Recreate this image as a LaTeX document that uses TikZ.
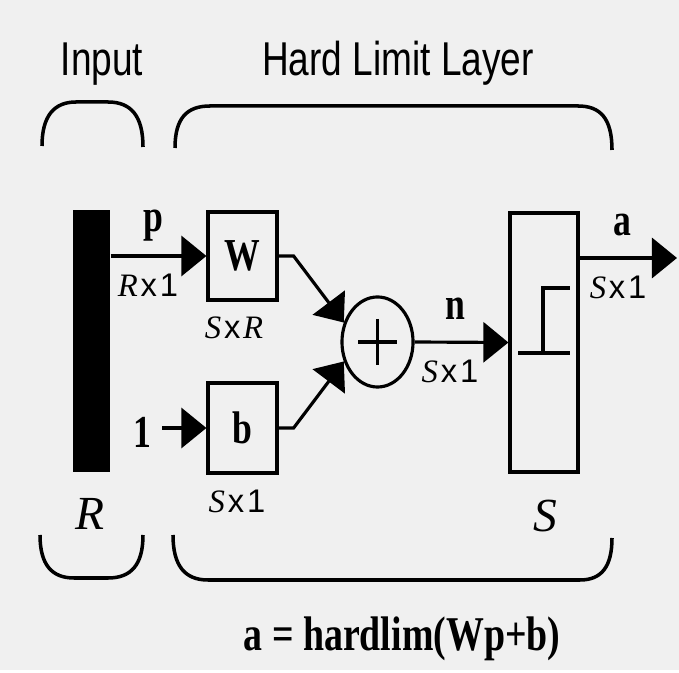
\documentclass[tikz,border=0pt]{standalone}
\usepackage{fontspec}
\setmainfont{Liberation Serif}
\setsansfont{Liberation Sans}
\newfontfamily\headfont[FakeStretch=0.78]{Liberation Sans}
\newfontfamily\boldlab[FakeStretch=0.78]{Liberation Serif}
\usetikzlibrary{arrows.meta, positioning, shapes.geometric}
\newcommand{\dimlabel}[2]{\textit{#1}\kern0.8pt\textsf{x}\kern0.8pt#2}

\begin{document}
\begin{tikzpicture}[x=0.01cm, y=-0.01cm, >={Triangle[length=0.25cm, width=0.4cm]},
  wire/.style={line width=0.9pt},
  box/.style={draw, line width=0.9pt, minimum width=0.69cm, inner sep=0pt,
    font=\boldlab\bfseries\fontsize{13}{15}\selectfont},
  sig/.style={font=\boldlab\bfseries\fontsize{13}{15}\selectfont, inner sep=1pt},
  dimtext/.style={font=\fontsize{9.3}{11}\selectfont, inner sep=1pt},
  sizetext/.style={font=\itshape\fontsize{13.5}{16}\selectfont, inner sep=1pt},
  head/.style={font=\headfont\fontsize{13.5}{16}\selectfont, anchor=base},
  brace/.style={line width=1pt}]
  \fill[black!6] (0,0) rectangle (679,670);
  % blocks
  \node[fill=black, minimum width=0.37cm, minimum height=2.62cm, inner sep=0pt] (bar) at (91.5,341) {};
  \node[box, minimum height=0.88cm] (W) at (242.5,256) {W};
  \node[box, minimum height=0.90cm] (b) at (242.5,428) {b};
  \node[draw, line width=0.9pt, ellipse, minimum width=0.71cm, minimum height=0.90cm, inner sep=0pt] (sum) at (377.5,342) {};
  \draw[wire] ([xshift=-0.19cm]sum.center) -- ([xshift=0.19cm]sum.center)
              ([yshift=0.23cm]sum.center) -- ([yshift=-0.23cm]sum.center);
  \node[box, minimum width=0.68cm, minimum height=2.59cm] (hl) at (544,342.5) {};
  \draw[wire] (518,353) -- (570,353) (543,353) -- (543,288) -- (570,288);
  % labels
  \node[sig] (plab) at (153,226) {p};
  \node[dimtext] (pdim) at (148,285) {\dimlabel{R}{\textsf{1}}};
  \node[dimtext] (Wdim) at (234,328) {\dimlabel{S}{\textit{R}}};
  \node[dimtext] (bdim) at (237,501) {\dimlabel{S}{\textsf{1}}};
  \node[sig] (one) at (142,432) {1};
  \node[sig] (nlab) at (455,309) {n};
  \node[dimtext] (ndim) at (450,371) {\dimlabel{S}{\textsf{1}}};
  \node[sig] (alab) at (622,225) {a};
  \node[dimtext] (adim) at (618,287) {\dimlabel{S}{\textsf{1}}};
  \node[sizetext] (Rsize) at (90,514) {R};
  \node[sizetext] (Ssize) at (545,516) {S};
  \node[head] (inlab) at (102,76) {Input};
  \node[head] (layerlab) at (398,76) {Hard Limit Layer};
  \node[font=\boldlab\bfseries\fontsize{13.8}{16}\selectfont, anchor=base] (rule) at (402,650) {a = hardlim(Wp+b)};
  % connections
  \draw[wire, ->] (bar.east |- W.west) -- (W.west);
  \draw[wire, ->, shorten <=0.07cm] (one.east |- b.west) -- (b.west);
  \draw[wire, ->] (W.east) -- ++(15,0) -- (sum.150);
  \draw[wire, ->] (b.east) -- ++(15,0) -- (sum.210);
  \draw[wire, ->] (sum.east) -- (hl.west);
  \coordinate (aout) at (677,258);
  \draw[wire, ->] (hl.east |- aout) -- (aout);
  % braces
  \draw[brace] (42,146) .. controls (42,116) and (54,102) .. (76,102) -- (108,102)
               .. controls (131,102) and (143,116) .. (143,147);
  \draw[brace] (175,148) .. controls (175,118) and (187,106) .. (210,106) -- (578,106)
               .. controls (600,106) and (612,118) .. (612,150);
  \draw[brace] (40,535) .. controls (40,565) and (52,578) .. (74,578) -- (108,578)
               .. controls (131,578) and (143,565) .. (143,535);
  \draw[brace] (173,535) .. controls (173,566) and (185,580) .. (208,580) -- (580,580)
               .. controls (602,580) and (612,566) .. (612,538);
\end{tikzpicture}
\end{document}
